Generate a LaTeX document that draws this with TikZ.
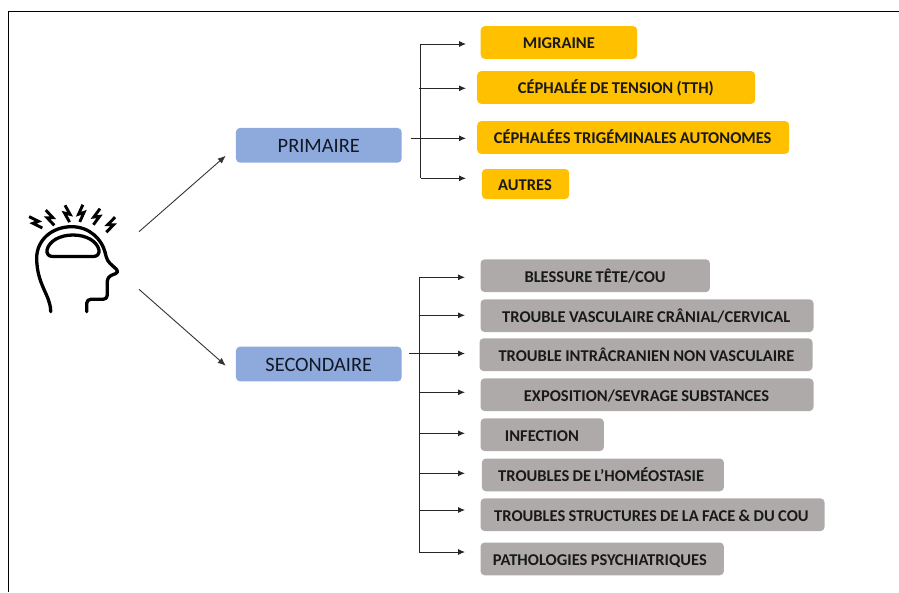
\documentclass[tikz,border=0pt]{standalone}
\usepackage{fontspec}
\usetikzlibrary{arrows.meta}
\setmainfont{Carlito}
\definecolor{ambre}{HTML}{FFC000}
\definecolor{gris}{HTML}{AEAAAA}
\definecolor{bleu}{HTML}{8EA9DB}
\definecolor{encre}{HTML}{111827}
\newcommand{\motserre}{\spaceskip 3.3pt\relax}
\begin{document}
\begin{tikzpicture}[
    x=1pt, y=-1pt,
    rootbox/.style={draw=none, fill=bleu, rounded corners=4pt, minimum width=165.7pt, minimum height=34.7pt, inner sep=0pt, text=encre, text height=14.6pt, text depth=0pt, font=\fontsize{20.4}{22}\selectfont},
    leafbox/.style={draw=none, rounded corners=4pt, anchor=west, minimum height=32.7pt, inner xsep=0pt, inner ysep=0pt, align=left, text=black!90, text height=12.6pt, text depth=0pt, font=\fontsize{16.5}{18}\selectfont\bfseries},
    ambrebox/.style={leafbox, fill=ambre},
    grisbox/.style={leafbox, fill=gris},
    branch/.style={-{Latex[length=7pt,width=6pt]}, line width=0.9pt, black!85},
    trunk/.style={line width=0.9pt, black!85},
    link/.style={-{Latex[length=8pt,width=6.5pt]}, line width=0.9pt, black!80, shorten >=13.3pt},
    headline/.style={line width=3.3pt, line cap=round, line join=round},
    bolt/.pic={\draw[line width=2.9pt, line join=miter] (2,-8.5) -- (-2.8,0.8) -- (2.8,-0.8) -- (-2,8.5);}
]
    \useasboundingbox (0,0) rectangle (899,592);
    \draw[line width=1pt] (8,592) -- (8,11) -- (899,11);

    % tete
    \draw[headline] (50.7,311.7) .. controls (50.7,295) and (36.7,285) .. (36.7,258) .. controls (36.7,240) and (52,226.7) .. (71.7,226.7) .. controls (90,226.7) and (102,240) .. (105,252);
    \draw[headline, rounded corners=4pt] (105,252) -- (107.3,261) -- (119.5,272) -- (107.3,277) -- (107.3,299.3) -- (86.7,299.3) -- (86.7,311.7);
    \draw[headline] (47,250) .. controls (49,241) and (60,235) .. (73,235) .. controls (86,235) and (97,241) .. (99,250) .. controls (99.5,254) and (97,256.4) .. (94,256.4) -- (52,256.4) .. controls (49,256.4) and (46.5,254) .. (47,250) -- cycle;
    \pic[rotate=36, xscale=-1] at (35.7,222.3) {bolt};
    \pic[rotate=16, xscale=-1] at (50,217.7) {bolt};
    \pic[rotate=2, xscale=-1] at (67.3,213.7) {bolt};
    \pic[rotate=3] at (81.3,213.3) {bolt};
    \pic[rotate=-9] at (96.7,216.7) {bolt};
    \pic[rotate=-17] at (110.7,224.7) {bolt};

    \node[rootbox] at (318.8,145.3) (primaire) {PRIMAIRE};
    \node[rootbox] at (318.8,364) (secondaire) {SECONDAIRE};

    \coordinate (teteA) at (139,231.7);
    \coordinate (teteB) at (139,289.3);
    \draw[link] (teteA) -- ([yshift=-1.7pt]primaire.west);
    \draw[link] (teteB) -- ([yshift=-10.5pt]secondaire.west);

    % primaire
    \node[ambrebox, text width=156.5pt] at (480.5,42.5) (migraine) {\motserre\hspace*{42.2pt}MIGRAINE};
    \node[ambrebox, text width=278pt] at (477,87.5) (tension) {\motserre\hspace*{40.7pt}CÉPHALÉE DE TENSION (TTH)};
    \node[ambrebox, text width=312pt] at (477,137.5) (trigeminales) {\motserre\hspace*{16.7pt}CÉPHALÉES TRIGÉMINALES AUTONOMES};
    \node[ambrebox, text width=87.3pt, minimum height=30pt] at (481.7,184) (autres) {\motserre\hspace*{16.3pt}AUTRES};

    \coordinate (pA) at (420.7,44);
    \coordinate (pB) at (419,88.3);
    \coordinate (pC) at (410.7,138.3);
    \coordinate (pD) at (420.7,178.3);
    \draw[trunk] (pA) -- (pD);
    \draw[branch, shorten >=14.5pt] (pA) -- (pA -| migraine.west);
    \draw[branch, shorten >=11pt] (pB) -- (pB -| tension.west);
    \draw[branch, shorten >=11pt] (pC) -- (pC -| trigeminales.west);
    \draw[branch, shorten >=15.7pt] (pD) -- (pD -| autres.west);

    % secondaire
    \node[grisbox, text width=229.4pt] at (480.3,275.7) (blessure) {\motserre\hspace*{44pt}BLESSURE TÊTE/COU};
    \node[grisbox, text width=333pt] at (480.3,315.7) (vasculaire) {\motserre\hspace*{21.7pt}TROUBLE VASCULAIRE CRÂNIAL/CERVICAL};
    \node[grisbox, text width=333pt] at (479.3,354.7) (intracranien) {\motserre\hspace*{19pt}TROUBLE INTRÂCRANIEN NON VASCULAIRE};
    \node[grisbox, text width=333pt] at (480.3,394.7) (exposition) {\motserre\hspace*{43.4pt}EXPOSITION/SEVRAGE SUBSTANCES};
    \node[grisbox, text width=123.4pt] at (480.3,434.7) (infection) {\motserre\hspace*{24.4pt}INFECTION};
    \node[grisbox, text width=242pt] at (481.7,474.9) (homeostasie) {\motserre\hspace*{16.3pt}TROUBLES DE L’HOMÉOSTASIE};
    \node[grisbox, text width=344pt] at (480.3,514.7) (structures) {\motserre\hspace*{13.7pt}TROUBLES STRUCTURES DE LA FACE \& DU COU};
    \node[grisbox, text width=243.4pt] at (480.3,558.9) (pathologies) {\motserre\hspace*{12.4pt}PATHOLOGIES PSYCHIATRIQUES};

    \coordinate (sA) at (419.3,277.3);
    \coordinate (sB) at (419.3,315.3);
    \coordinate (sC) at (409.3,353.5);
    \coordinate (sD) at (419.3,392.3);
    \coordinate (sE) at (419.3,433.3);
    \coordinate (sF) at (420.3,473.3);
    \coordinate (sG) at (419.3,510);
    \coordinate (sH) at (419.3,552);
    \draw[trunk] (sA) -- (sH);
    \draw[branch, shorten >=15.3pt] (sA) -- (sA -| blessure.west);
    \draw[branch, shorten >=15.3pt] (sB) -- (sB -| vasculaire.west);
    \draw[branch, shorten >=14.3pt] (sC) -- (sC -| intracranien.west);
    \draw[branch, shorten >=15.3pt] (sD) -- (sD -| exposition.west);
    \draw[branch, shorten >=15.3pt] (sE) -- (sE -| infection.west);
    \draw[branch, shorten >=16.7pt] (sF) -- (sF -| homeostasie.west);
    \draw[branch, shorten >=15.3pt] (sG) -- (sG -| structures.west);
    \draw[branch, shorten >=15.3pt] (sH) -- (sH -| pathologies.west);
\end{tikzpicture}
\end{document}
